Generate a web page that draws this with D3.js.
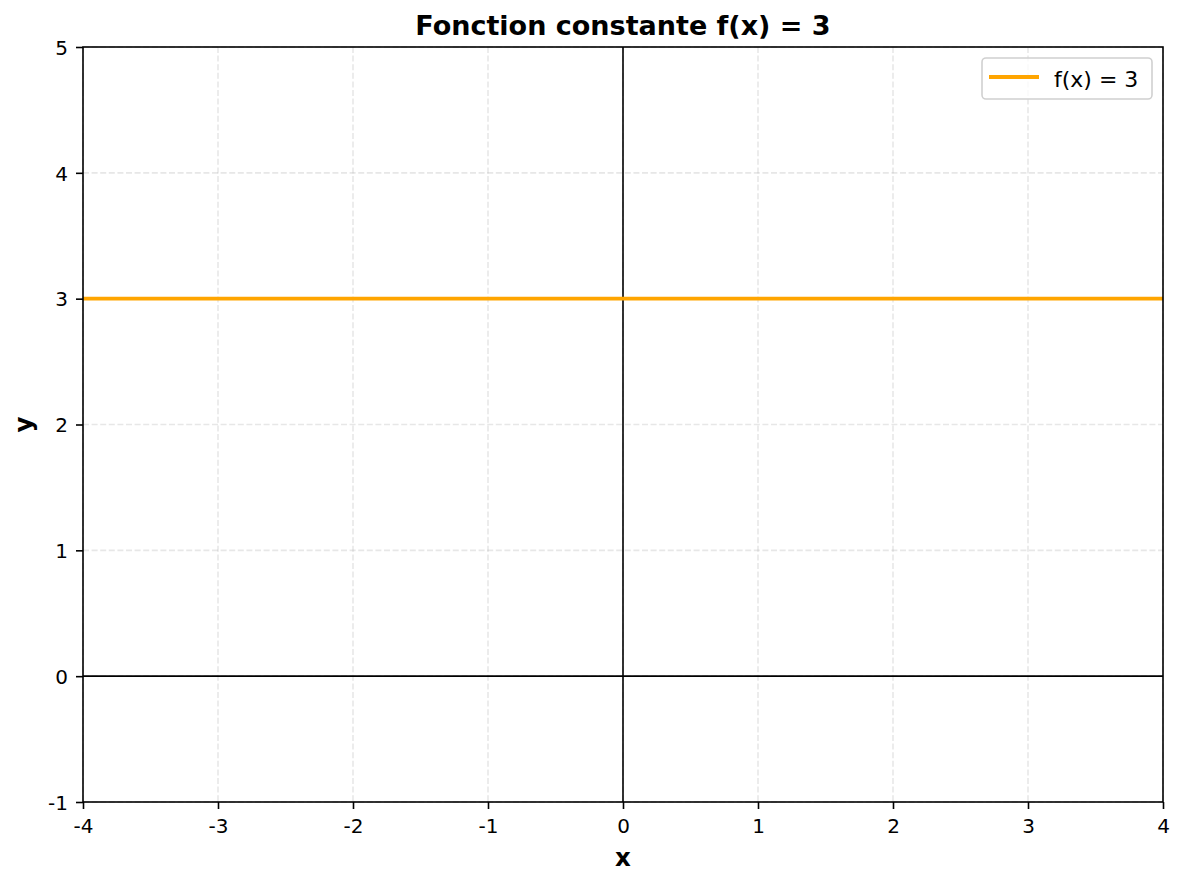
<!DOCTYPE html>
<html><head><meta charset="utf-8">
<script src="https://cdn.jsdelivr.net/npm/d3@7"></script>
<style>body{margin:0;background:#fff}svg{display:block;font-family:"DejaVu Sans",sans-serif}</style>
</head><body><svg id="c" width="1184" height="884"></svg>
<script>
const xTicks = [-4,-3,-2,-1,0,1,2,3,4];
const yTicks = [-1,0,1,2,3,4,5];
const xDomain = [-4,4];
const yDomain = [-1,5];
const lineX = [-4,4];
const lineY = [3,3];
const seriesName = "f(x) = 3";
const title = "Fonction constante f(x) = 3";

const svg = d3.select("#c");
const L=83,R=1163,T=47,B=802;
const x = d3.scaleLinear().domain(xDomain).range([L,R]);
const y = d3.scaleLinear().domain(yDomain).range([B,T]);

// grid
const g = svg.append("g");
g.selectAll(".gx").data(xTicks).enter().append("line")
 .attr("x1",d=>x(d)).attr("x2",d=>x(d)).attr("y1",T).attr("y2",B)
 .attr("stroke","#b0b0b0").attr("stroke-opacity",0.3).attr("stroke-width",1.6).attr("stroke-dasharray","6,2.6");
g.selectAll(".gy").data(yTicks).enter().append("line")
 .attr("y1",d=>y(d)).attr("y2",d=>y(d)).attr("x1",L).attr("x2",R)
 .attr("stroke","#b0b0b0").attr("stroke-opacity",0.3).attr("stroke-width",1.6).attr("stroke-dasharray","6,2.6");

// zero axes
svg.append("line").attr("x1",L).attr("x2",R).attr("y1",y(0)).attr("y2",y(0)).attr("stroke","#000").attr("stroke-width",1.6);
svg.append("line").attr("x1",x(0)).attr("x2",x(0)).attr("y1",T).attr("y2",B).attr("stroke","#000").attr("stroke-width",1.6);

// series line
const data = lineX.map((v,i)=>[v,lineY[i]]);
svg.append("path").datum(data).attr("d",d3.line().x(d=>x(d[0])).y(d=>y(d[1])))
 .attr("stroke","#FFA500").attr("stroke-width",3.8).attr("fill","none");

// axes
const fmt = d=>String(d).replace("−","-");
const ax = svg.append("g").attr("transform",`translate(0,${B})`)
 .call(d3.axisBottom(x).tickValues(xTicks).tickFormat(fmt).tickSize(7).tickPadding(7));
const ay = svg.append("g").attr("transform",`translate(${L},0)`)
 .call(d3.axisLeft(y).tickValues(yTicks).tickFormat(fmt).tickSize(7).tickPadding(8));
[ax,ay].forEach(a=>{a.select(".domain").remove();a.selectAll("line").attr("stroke","#000").attr("stroke-width",1.6);
 a.selectAll("text").attr("font-family","DejaVu Sans").attr("font-size",20).attr("fill","#000");});
ax.selectAll("text").attr("y",31).attr("dy","0");
ay.selectAll("text").attr("dy","0.36em");

// frame
svg.append("rect").attr("x",L).attr("y",T).attr("width",R-L).attr("height",B-T)
 .attr("fill","none").attr("stroke","#000").attr("stroke-width",1.6);

// title & labels
svg.append("text").attr("x",(L+R)/2).attr("y",34.5).attr("text-anchor","middle")
 .attr("font-size",27).attr("font-weight","bold").text(title);
svg.append("text").attr("x",(L+R)/2).attr("y",866).attr("text-anchor","middle")
 .attr("font-size",24.5).attr("font-weight","bold").text("x");
svg.append("text").attr("transform",`translate(31.5,${(T+B)/2}) rotate(-90)`).attr("text-anchor","middle")
 .attr("font-size",24.5).attr("font-weight","bold").text("y");

// legend
const lg = svg.append("g");
lg.append("rect").attr("x",982).attr("y",58).attr("width",170).attr("height",41).attr("rx",4)
 .attr("fill","#fff").attr("fill-opacity",0.8).attr("stroke","#d0d0d0").attr("stroke-width",1.6);
lg.append("line").attr("x1",989).attr("x2",1039).attr("y1",77).attr("y2",77).attr("stroke","#FFA500").attr("stroke-width",3.8);
lg.append("text").attr("x",1054).attr("y",86.5).attr("font-size",22).text(seriesName);
</script></body></html>
